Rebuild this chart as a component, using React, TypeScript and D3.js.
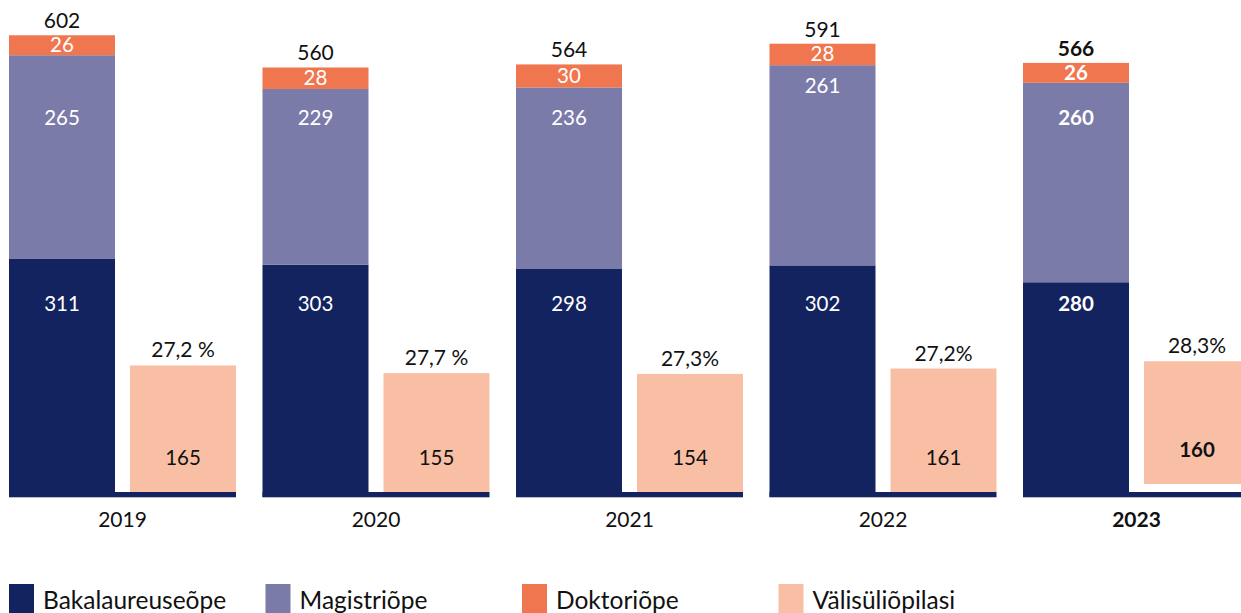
import React from "react";
import * as d3 from "d3";

const years = ["2019", "2020", "2021", "2022", "2023"];
const bakalaureus = [311, 303, 298, 302, 280];
const magister = [265, 229, 236, 261, 260];
const doktor = [26, 28, 30, 28, 26];
const totals = [602, 560, 564, 591, 566];
const valis = [165, 155, 154, 161, 160];
const valisPct = ["27,2 %", "27,7 %", "27,3%", "27,2%", "28,3%"];
const seriesNames = ["Bakalaureuseõpe", "Magistriõpe", "Doktoriõpe", "Välisüliõpilasi"];

const COLORS = ["#13235F", "#7B7BAA", "#EF764E", "#F8BFA5"];
const FONT = "'Lato', 'Noto Sans', sans-serif";

// layout tweaks (not data)
const magLabelNudge = [0, 0, 0, -32, 0];
const W = 1241, H = 613;
const baseY = 497;
const STEP = 253.5;
const GROUP_W = 227;

export default function App() {
  const y = d3.scaleLinear().domain([0, 648]).range([baseY, 0]);
  const yv = d3.scaleLinear().domain([0, 648]).range([baseY - 5, -5]);
  const x = d3
    .scaleBand()
    .domain(years)
    .range([9, 9 + STEP * (years.length - 1) + GROUP_W])
    .paddingInner((STEP - GROUP_W) / STEP)
    .paddingOuter(0);
  const gw = x.bandwidth();
  const barW = (gw - 15) / 2;

  const stacked = years.map((yr, i) => {
    const segs = [bakalaureus[i], magister[i], doktor[i]];
    let acc = 0;
    return segs.map((v, k) => {
      const y0 = acc;
      acc += v;
      return { k, v, y0, y1: acc };
    });
  });

  return (
    <svg width={W} height={H} style={{ position: "absolute", left: 0, top: 0, fontFamily: FONT }}>
      <rect width={W} height={H} fill="#fff" />
      {years.map((yr, i) => {
        const gx = x(yr)!;
        const bold = i === years.length - 1;
        const fw = bold ? 700 : 400;
        const shift = bold ? -8 : 0;
        const cx1 = gx + barW / 2;
        const cx2 = gx + barW + 15 + barW / 2;
        const topY = y(totals[i]);
        return (
          <g key={yr}>
            {stacked[i].map((s) => (
              <rect key={s.k} x={gx} width={barW} y={y(s.y1)} height={y(s.y0) - y(s.y1)} fill={COLORS[s.k]} />
            ))}
            <rect x={gx} y={baseY - 5} width={gw} height={5} fill={COLORS[0]} />
            <rect x={gx} y={baseY} width={gw} height={1} fill="#B9BFD2" />
            <rect x={gx + barW + 15} width={barW} y={yv(valis[i]) + shift} height={yv(0) - yv(valis[i])} fill={COLORS[3]} />
            <text x={cx1} y={topY - 7} textAnchor="middle" fontSize={21} fontWeight={fw} fill="#111">{totals[i]}</text>
            <text x={cx1} y={(y(stacked[i][2].y0) + y(stacked[i][2].y1)) / 2 + 7} textAnchor="middle" fontSize={20.5} fontWeight={fw} fill="#fff">{doktor[i]}</text>
            <text x={cx1} y={y(494) + 7 + magLabelNudge[i]} textAnchor="middle" fontSize={20.5} fontWeight={fw} fill="#fff">{magister[i]}</text>
            <text x={cx1} y={y(251) + 7} textAnchor="middle" fontSize={20.5} fontWeight={fw} fill="#fff">{bakalaureus[i]}</text>
            <text x={cx2} y={yv(valis[i]) + shift - 8} textAnchor="middle" fontSize={21} fill="#111">{valisPct[i]}</text>
            <text x={cx2} y={yv(44) + 7 + shift} textAnchor="middle" fontSize={20.5} fontWeight={fw} fill="#111">{valis[i]}</text>
            <text x={gx + gw / 2} y={527} textAnchor="middle" fontSize={21} fontWeight={fw} fill="#111">{yr}</text>
          </g>
        );
      })}
      {seriesNames.map((n, k) => (
        <g key={n} transform={`translate(${9 + k * 256.5},584)`}>
          <rect width={25} height={30} fill={COLORS[k]} />
          <text x={34} y={25} fontSize={24.5} fill="#111">{n}</text>
        </g>
      ))}
    </svg>
  );
}
